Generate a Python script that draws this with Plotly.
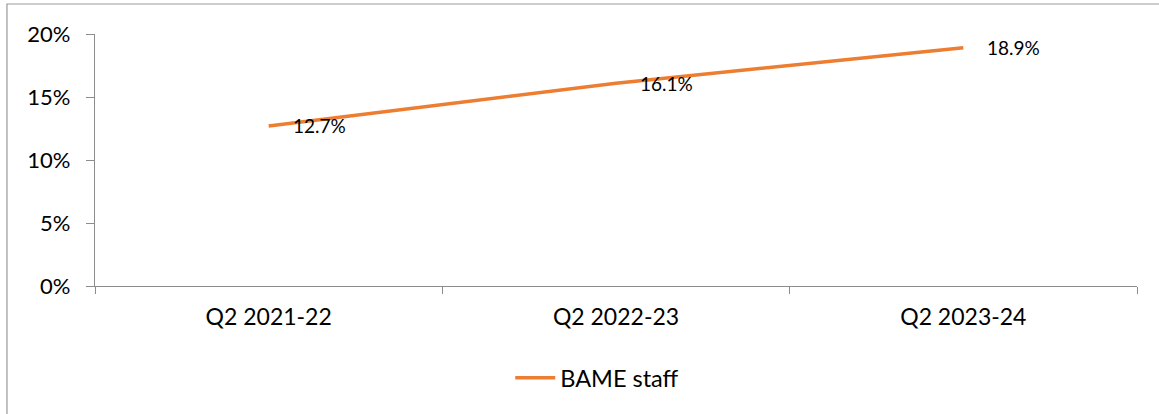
import plotly.graph_objects as go

categories = ["Q2 2021-22", "Q2 2022-23", "Q2 2023-24"]
bame_values = [0.127, 0.161, 0.189]
label_text = ["12.7%", "16.1%", "18.9%"]
series_name = "BAME staff"

FONT = "Lato"
AXIS_COLOR = "#8c8c8c"
LINE_COLOR = "#ED7D31"

fig = go.Figure()
fig.add_trace(go.Scatter(
    x=categories, y=bame_values, mode="lines", name=series_name,
    line=dict(color=LINE_COLOR, width=3.5), hoverinfo="skip",
))

for c, v, t in zip(categories, bame_values, label_text):
    fig.add_annotation(x=c, y=v, text=t, showarrow=False, xanchor="left",
                       yanchor="middle", xshift=22, font=dict(family=FONT, size=19, color="#000"))

fig.add_shape(type="rect", xref="paper", yref="paper",
              x0=-0.0845, x1=1.2, y0=-1.0, y1=1.119,
              line=dict(color="#999999", width=1.2), fillcolor="rgba(0,0,0,0)", layer="below")

fig.update_layout(
    width=1159, height=414,
    margin=dict(l=95, r=22, t=34, b=128),
    paper_bgcolor="white", plot_bgcolor="white",
    font=dict(family=FONT, color="#000"),
    showlegend=True,
    legend=dict(orientation="h", x=0.482, xanchor="center", y=-0.365, yanchor="middle",
                font=dict(family=FONT, size=23.5, color="#000"), itemwidth=40),
    xaxis=dict(type="category", range=[-0.5, 2.5], showgrid=False, zeroline=False,
               showline=True, linecolor=AXIS_COLOR, linewidth=1.2,
               ticks="outside", tickson="boundaries", ticklen=7, tickcolor=AXIS_COLOR,
               tickfont=dict(family=FONT, size=23, color="#000"), ticklabelstandoff=10),
    yaxis=dict(range=[0, 0.2], dtick=0.05, tickformat=".0%", showgrid=False, zeroline=False,
               showline=True, linecolor=AXIS_COLOR, linewidth=1.2,
               ticks="outside", ticklen=8, tickcolor=AXIS_COLOR,
               tickfont=dict(family=FONT, size=22, color="#000"), ticklabelstandoff=11),
)

fig.write_html("out.html", config={"displayModeBar": False},
               post_script="document.body.style.margin='0';document.body.style.overflow='hidden';")
